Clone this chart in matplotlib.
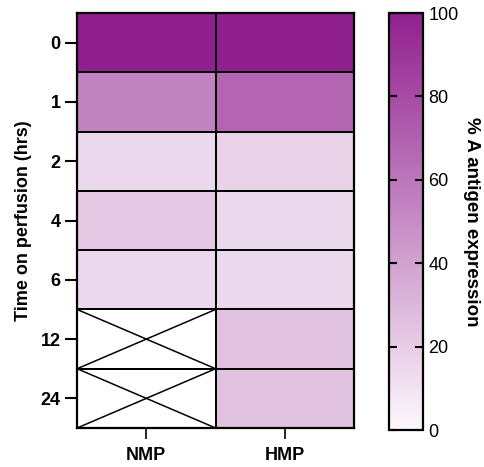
import numpy as np
import matplotlib.pyplot as plt
from matplotlib.colors import LinearSegmentedColormap

plt.rcParams['font.family'] = ['Liberation Sans', 'DejaVu Sans']

times = ['0', '1', '2', '4', '6', '12', '24']
groups = ['NMP', 'HMP']
nmp = [100, 54, 15, 22, 15, np.nan, np.nan]
hmp = [100, 68, 18, 15, 15, 25, 25]

data = np.ma.masked_invalid(np.array([nmp, hmp]).T)
cmap = LinearSegmentedColormap.from_list('purp', ['#fcf8fc', '#91208f'])

fig = plt.figure(figsize=(4.85, 4.67), dpi=100)
ax = fig.add_axes([0.159, 0.0835, 0.571, 0.8885])
cax = fig.add_axes([0.802, 0.079, 0.070, 0.893])

mesh = ax.pcolormesh(data, cmap=cmap, vmin=0, vmax=100,
                     edgecolors='black', linewidth=1.1)
# crossed-out cells where there is no data
for r in range(data.shape[0]):
    for c in range(data.shape[1]):
        if data.mask[r, c]:
            ax.plot([c, c + 1], [r, r + 1], color='black', lw=1.1)
            ax.plot([c, c + 1], [r + 1, r], color='black', lw=1.1)
            ax.plot([c, c + 1, c + 1, c, c], [r, r, r + 1, r + 1, r],
                    color='black', lw=1.1)
ax.set_xlim(0, len(groups))
ax.set_ylim(len(times), 0)

ax.set_yticks(np.arange(len(times)) + 0.5)
ax.set_yticklabels(times, fontsize=13, fontweight='bold')
ax.set_xticks([0.5, 1.5])
ax.set_xticklabels(groups, fontsize=13, fontweight='bold')
ax.tick_params(axis='y', length=9, width=1.5, pad=3)
ax.tick_params(axis='x', length=8, width=1.2, pad=6)
for s in ax.spines.values():
    s.set_linewidth(1.6)
ax.set_ylabel('Time on perfusion (hrs)', fontsize=13, fontweight='bold', labelpad=6)

cb = fig.colorbar(mesh, cax=cax)
cb.set_ticks([0, 20, 40, 60, 80, 100])
cb.ax.tick_params(direction='in', length=6, width=1.5, labelsize=13, left=True, right=True, pad=4)
cb.outline.set_linewidth(1.6)
cb.set_label('% A antigen expression', fontsize=13.5, fontweight='bold', rotation=270, labelpad=15)

fig.savefig('out.png', dpi=100)
